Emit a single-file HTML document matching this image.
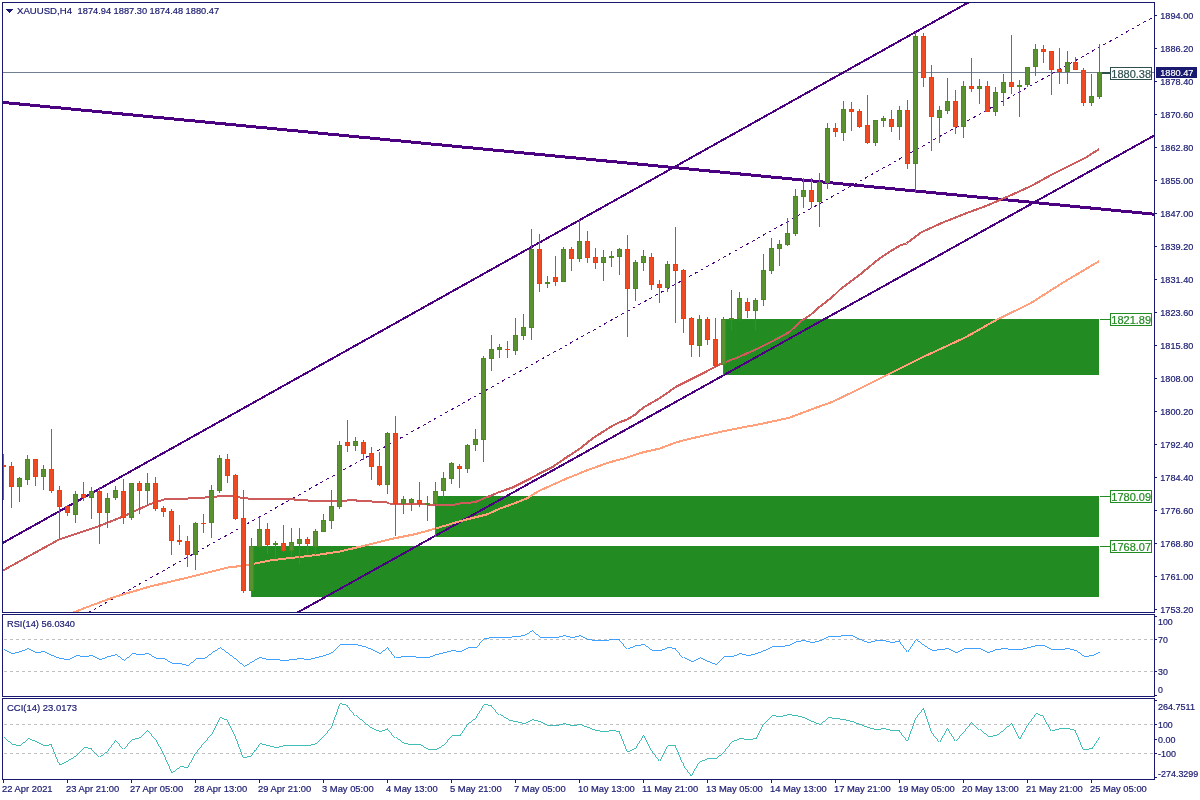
<!DOCTYPE html>
<html><head><meta charset="utf-8"><title>XAUUSD H4</title>
<style>html,body{margin:0;padding:0;background:#fff}svg{display:block}</style></head>
<body>
<svg width="1200" height="800" viewBox="0 0 1200 800" font-family="'Liberation Sans', Arial, sans-serif">
<rect width="1200" height="800" fill="#fff"/>
<g shape-rendering="crispEdges">
<defs><clipPath id="cm"><rect x="3" y="3" width="1151" height="609"/></clipPath></defs>
<g clip-path="url(#cm)">
<rect x="251" y="546" width="848" height="51" fill="#228B22"/>
<rect x="435" y="496" width="664" height="41" fill="#228B22"/>
<rect x="723" y="319" width="376" height="56" fill="#228B22"/>
<rect x="3" y="72" width="1151" height="1" fill="#708090"/>
<line x1="0.00" y1="102.11" x2="1156.00" y2="214.36" stroke="#4B0082" stroke-width="3" />
<line x1="0.00" y1="544.48" x2="980.00" y2="-4.03" stroke="#4B0082" stroke-width="2" />
<line x1="290.00" y1="616.68" x2="1156.00" y2="134.49" stroke="#4B0082" stroke-width="2" />
<line x1="88.00" y1="612.84" x2="1156.00" y2="15.51" stroke="#4B0082" stroke-width="1" stroke-dasharray="3 3.5"/>
<polyline fill="none" stroke="#FFA07A" stroke-width="2" stroke-linejoin="round" points="72.0,613.0 90.0,606.0 115.0,596.8 150.0,586.5 188.0,577.5 228.0,567.5 240.0,566.1 255.0,563.5 270.0,560.5 290.0,558.0 300.0,557.0 315.0,555.2 340.0,551.5 365.0,545.5 390.0,539.2 415.0,534.2 433.3,529.2 446.7,525.2 460.0,521.2 473.3,517.8 486.7,514.5 500.0,508.5 513.3,503.8 526.7,498.5 533.3,494.3 540.0,490.5 553.3,484.5 566.7,478.5 580.0,473.2 587.5,470.0 610.0,462.2 626.7,457.7 643.3,452.2 660.0,448.5 676.7,442.2 693.3,438.0 710.0,434.2 726.7,430.5 743.3,427.2 760.0,424.2 770.8,421.8 789.3,417.8 811.0,409.5 832.5,401.8 863.3,387.0 888.0,374.6 925.0,356.1 965.0,337.6 996.0,320.1 1029.8,303.7 1063.8,282.1 1099.0,261.2"/>
<polyline fill="none" stroke="#CD5C5C" stroke-width="2" stroke-linejoin="round" points="3.0,570.5 59.0,539.5 99.0,526.1 123.0,516.5 147.0,505.5 150.0,504.2 165.0,499.2 188.0,498.5 205.0,497.5 230.0,495.5 240.0,497.5 252.0,499.0 290.0,499.2 300.0,499.9 315.0,501.1 346.0,501.1 349.0,499.6 355.0,499.6 357.0,500.8 371.0,500.8 373.0,502.4 387.0,502.4 389.0,503.5 420.0,504.0 436.0,505.0 450.7,505.5 460.0,503.5 474.7,502.2 486.7,497.2 500.0,491.8 513.3,487.2 526.7,480.5 540.0,473.2 553.3,466.5 566.7,457.2 580.0,448.5 593.3,438.0 610.0,427.2 618.3,422.7 626.7,419.7 635.0,414.7 643.3,407.5 660.0,398.0 676.7,386.3 693.3,378.0 706.7,371.3 720.0,364.2 740.0,356.5 760.0,347.5 773.8,340.5 789.3,332.1 800.0,322.0 811.0,314.5 820.0,306.5 832.5,296.9 840.0,289.5 860.0,274.5 878.8,259.0 890.0,251.5 900.0,245.5 906.5,243.5 921.7,232.1 943.3,222.3 965.0,213.7 986.7,205.7 1008.3,196.3 1030.0,186.6 1051.7,174.7 1073.3,163.8 1086.3,157.3 1099.0,149.1"/>
<rect x="3" y="454" width="1" height="46" fill="#EE3D0E"/>
<rect x="1" y="465" width="5" height="2" fill="#EE3D0E"/>
<rect x="11" y="462" width="1" height="46" fill="#EE3D0E"/>
<rect x="9" y="466" width="5" height="21" fill="#EE3D0E"/>
<rect x="10" y="467" width="3" height="19" fill="#EE4B25"/>
<rect x="19" y="477" width="1" height="25" fill="#4C8A1F"/>
<rect x="17" y="478" width="5" height="9" fill="#4C8A1F"/>
<rect x="18" y="479" width="3" height="7" fill="#5B9231"/>
<rect x="27" y="455" width="1" height="30" fill="#4C8A1F"/>
<rect x="25" y="459" width="5" height="21" fill="#4C8A1F"/>
<rect x="26" y="460" width="3" height="19" fill="#5B9231"/>
<rect x="35" y="459" width="1" height="27" fill="#EE3D0E"/>
<rect x="33" y="459" width="5" height="18" fill="#EE3D0E"/>
<rect x="34" y="460" width="3" height="16" fill="#EE4B25"/>
<rect x="43" y="465" width="1" height="25" fill="#4C8A1F"/>
<rect x="41" y="469" width="5" height="8" fill="#4C8A1F"/>
<rect x="42" y="470" width="3" height="6" fill="#5B9231"/>
<rect x="51" y="429" width="1" height="64" fill="#EE3D0E"/>
<rect x="49" y="469" width="5" height="22" fill="#EE3D0E"/>
<rect x="50" y="470" width="3" height="20" fill="#EE4B25"/>
<rect x="59" y="486" width="1" height="53" fill="#EE3D0E"/>
<rect x="57" y="490" width="5" height="17" fill="#EE3D0E"/>
<rect x="58" y="491" width="3" height="15" fill="#EE4B25"/>
<rect x="67" y="505" width="1" height="11" fill="#EE3D0E"/>
<rect x="65" y="506" width="5" height="7" fill="#EE3D0E"/>
<rect x="66" y="507" width="3" height="5" fill="#EE4B25"/>
<rect x="75" y="491" width="1" height="32" fill="#4C8A1F"/>
<rect x="73" y="494" width="5" height="21" fill="#4C8A1F"/>
<rect x="74" y="495" width="3" height="19" fill="#5B9231"/>
<rect x="83" y="482" width="1" height="19" fill="#EE3D0E"/>
<rect x="81" y="494" width="5" height="4" fill="#EE3D0E"/>
<rect x="82" y="495" width="3" height="2" fill="#EE4B25"/>
<rect x="91" y="487" width="1" height="32" fill="#4C8A1F"/>
<rect x="89" y="491" width="5" height="7" fill="#4C8A1F"/>
<rect x="90" y="492" width="3" height="5" fill="#5B9231"/>
<rect x="99" y="487" width="1" height="57" fill="#EE3D0E"/>
<rect x="97" y="491" width="5" height="22" fill="#EE3D0E"/>
<rect x="98" y="492" width="3" height="20" fill="#EE4B25"/>
<rect x="107" y="493" width="1" height="35" fill="#4C8A1F"/>
<rect x="105" y="498" width="5" height="15" fill="#4C8A1F"/>
<rect x="106" y="499" width="3" height="13" fill="#5B9231"/>
<rect x="115" y="486" width="1" height="14" fill="#4C8A1F"/>
<rect x="113" y="490" width="5" height="8" fill="#4C8A1F"/>
<rect x="114" y="491" width="3" height="6" fill="#5B9231"/>
<rect x="123" y="479" width="1" height="45" fill="#EE3D0E"/>
<rect x="121" y="491" width="5" height="27" fill="#EE3D0E"/>
<rect x="122" y="492" width="3" height="25" fill="#EE4B25"/>
<rect x="131" y="483" width="1" height="37" fill="#4C8A1F"/>
<rect x="129" y="483" width="5" height="35" fill="#4C8A1F"/>
<rect x="130" y="484" width="3" height="33" fill="#5B9231"/>
<rect x="139" y="481" width="1" height="33" fill="#EE3D0E"/>
<rect x="137" y="483" width="5" height="8" fill="#EE3D0E"/>
<rect x="138" y="484" width="3" height="6" fill="#EE4B25"/>
<rect x="147" y="473" width="1" height="33" fill="#4C8A1F"/>
<rect x="145" y="483" width="5" height="8" fill="#4C8A1F"/>
<rect x="146" y="484" width="3" height="6" fill="#5B9231"/>
<rect x="155" y="477" width="1" height="34" fill="#EE3D0E"/>
<rect x="153" y="483" width="5" height="26" fill="#EE3D0E"/>
<rect x="154" y="484" width="3" height="24" fill="#EE4B25"/>
<rect x="163" y="506" width="1" height="11" fill="#EE3D0E"/>
<rect x="161" y="508" width="5" height="4" fill="#EE3D0E"/>
<rect x="162" y="509" width="3" height="2" fill="#EE4B25"/>
<rect x="171" y="509" width="1" height="46" fill="#EE3D0E"/>
<rect x="169" y="511" width="5" height="30" fill="#EE3D0E"/>
<rect x="170" y="512" width="3" height="28" fill="#EE4B25"/>
<rect x="179" y="525" width="1" height="20" fill="#EE3D0E"/>
<rect x="177" y="540" width="5" height="2" fill="#EE3D0E"/>
<rect x="187" y="536" width="1" height="31" fill="#EE3D0E"/>
<rect x="185" y="541" width="5" height="14" fill="#EE3D0E"/>
<rect x="186" y="542" width="3" height="12" fill="#EE4B25"/>
<rect x="195" y="522" width="1" height="48" fill="#4C8A1F"/>
<rect x="193" y="523" width="5" height="32" fill="#4C8A1F"/>
<rect x="194" y="524" width="3" height="30" fill="#5B9231"/>
<rect x="203" y="514" width="1" height="19" fill="#EE3D0E"/>
<rect x="201" y="523" width="5" height="1" fill="#EE3D0E"/>
<rect x="211" y="485" width="1" height="53" fill="#4C8A1F"/>
<rect x="209" y="490" width="5" height="33" fill="#4C8A1F"/>
<rect x="210" y="491" width="3" height="31" fill="#5B9231"/>
<rect x="219" y="455" width="1" height="38" fill="#4C8A1F"/>
<rect x="217" y="458" width="5" height="33" fill="#4C8A1F"/>
<rect x="218" y="459" width="3" height="31" fill="#5B9231"/>
<rect x="227" y="454" width="1" height="29" fill="#EE3D0E"/>
<rect x="225" y="459" width="5" height="17" fill="#EE3D0E"/>
<rect x="226" y="460" width="3" height="15" fill="#EE4B25"/>
<rect x="235" y="474" width="1" height="46" fill="#EE3D0E"/>
<rect x="233" y="475" width="5" height="44" fill="#EE3D0E"/>
<rect x="234" y="476" width="3" height="42" fill="#EE4B25"/>
<rect x="243" y="490" width="1" height="103" fill="#EE3D0E"/>
<rect x="241" y="518" width="5" height="73" fill="#EE3D0E"/>
<rect x="242" y="519" width="3" height="71" fill="#EE4B25"/>
<rect x="251" y="538" width="1" height="59" fill="#4C8A1F"/>
<rect x="249" y="546" width="5" height="45" fill="#4C8A1F"/>
<rect x="250" y="547" width="3" height="43" fill="#5B9231"/>
<rect x="259" y="517" width="1" height="31" fill="#4C8A1F"/>
<rect x="257" y="529" width="5" height="18" fill="#4C8A1F"/>
<rect x="258" y="530" width="3" height="16" fill="#5B9231"/>
<rect x="267" y="523" width="1" height="31" fill="#EE3D0E"/>
<rect x="265" y="529" width="5" height="16" fill="#EE3D0E"/>
<rect x="266" y="530" width="3" height="14" fill="#EE4B25"/>
<rect x="275" y="541" width="1" height="18" fill="#4C8A1F"/>
<rect x="273" y="543" width="5" height="2" fill="#4C8A1F"/>
<rect x="283" y="525" width="1" height="27" fill="#EE3D0E"/>
<rect x="281" y="543" width="5" height="8" fill="#EE3D0E"/>
<rect x="282" y="544" width="3" height="6" fill="#EE4B25"/>
<rect x="291" y="528" width="1" height="29" fill="#4C8A1F"/>
<rect x="289" y="542" width="5" height="9" fill="#4C8A1F"/>
<rect x="290" y="543" width="3" height="7" fill="#5B9231"/>
<rect x="299" y="528" width="1" height="36" fill="#4C8A1F"/>
<rect x="297" y="539" width="5" height="5" fill="#4C8A1F"/>
<rect x="298" y="540" width="3" height="3" fill="#5B9231"/>
<rect x="307" y="537" width="1" height="17" fill="#EE3D0E"/>
<rect x="305" y="539" width="5" height="5" fill="#EE3D0E"/>
<rect x="306" y="540" width="3" height="3" fill="#EE4B25"/>
<rect x="315" y="529" width="1" height="26" fill="#4C8A1F"/>
<rect x="313" y="531" width="5" height="16" fill="#4C8A1F"/>
<rect x="314" y="532" width="3" height="14" fill="#5B9231"/>
<rect x="323" y="514" width="1" height="18" fill="#4C8A1F"/>
<rect x="321" y="520" width="5" height="12" fill="#4C8A1F"/>
<rect x="322" y="521" width="3" height="10" fill="#5B9231"/>
<rect x="331" y="490" width="1" height="39" fill="#4C8A1F"/>
<rect x="329" y="506" width="5" height="15" fill="#4C8A1F"/>
<rect x="330" y="507" width="3" height="13" fill="#5B9231"/>
<rect x="339" y="441" width="1" height="68" fill="#4C8A1F"/>
<rect x="337" y="445" width="5" height="62" fill="#4C8A1F"/>
<rect x="338" y="446" width="3" height="60" fill="#5B9231"/>
<rect x="347" y="420" width="1" height="32" fill="#EE3D0E"/>
<rect x="345" y="442" width="5" height="4" fill="#EE3D0E"/>
<rect x="346" y="443" width="3" height="2" fill="#EE4B25"/>
<rect x="355" y="437" width="1" height="14" fill="#4C8A1F"/>
<rect x="353" y="441" width="5" height="5" fill="#4C8A1F"/>
<rect x="354" y="442" width="3" height="3" fill="#5B9231"/>
<rect x="363" y="440" width="1" height="20" fill="#EE3D0E"/>
<rect x="361" y="442" width="5" height="12" fill="#EE3D0E"/>
<rect x="362" y="443" width="3" height="10" fill="#EE4B25"/>
<rect x="371" y="447" width="1" height="33" fill="#EE3D0E"/>
<rect x="369" y="453" width="5" height="14" fill="#EE3D0E"/>
<rect x="370" y="454" width="3" height="12" fill="#EE4B25"/>
<rect x="379" y="452" width="1" height="34" fill="#EE3D0E"/>
<rect x="377" y="466" width="5" height="19" fill="#EE3D0E"/>
<rect x="378" y="467" width="3" height="17" fill="#EE4B25"/>
<rect x="387" y="432" width="1" height="62" fill="#4C8A1F"/>
<rect x="385" y="433" width="5" height="52" fill="#4C8A1F"/>
<rect x="386" y="434" width="3" height="50" fill="#5B9231"/>
<rect x="395" y="416" width="1" height="120" fill="#EE3D0E"/>
<rect x="393" y="433" width="5" height="71" fill="#EE3D0E"/>
<rect x="394" y="434" width="3" height="69" fill="#EE4B25"/>
<rect x="403" y="496" width="1" height="18" fill="#4C8A1F"/>
<rect x="401" y="499" width="5" height="5" fill="#4C8A1F"/>
<rect x="402" y="500" width="3" height="3" fill="#5B9231"/>
<rect x="411" y="498" width="1" height="13" fill="#4C8A1F"/>
<rect x="409" y="499" width="5" height="4" fill="#4C8A1F"/>
<rect x="410" y="500" width="3" height="2" fill="#5B9231"/>
<rect x="419" y="482" width="1" height="25" fill="#EE3D0E"/>
<rect x="417" y="500" width="5" height="4" fill="#EE3D0E"/>
<rect x="418" y="501" width="3" height="2" fill="#EE4B25"/>
<rect x="427" y="496" width="1" height="25" fill="#4C8A1F"/>
<rect x="425" y="503" width="5" height="2" fill="#4C8A1F"/>
<rect x="435" y="482" width="1" height="55" fill="#4C8A1F"/>
<rect x="433" y="491" width="5" height="13" fill="#4C8A1F"/>
<rect x="434" y="492" width="3" height="11" fill="#5B9231"/>
<rect x="443" y="472" width="1" height="28" fill="#4C8A1F"/>
<rect x="441" y="478" width="5" height="13" fill="#4C8A1F"/>
<rect x="442" y="479" width="3" height="11" fill="#5B9231"/>
<rect x="451" y="462" width="1" height="22" fill="#4C8A1F"/>
<rect x="449" y="463" width="5" height="16" fill="#4C8A1F"/>
<rect x="450" y="464" width="3" height="14" fill="#5B9231"/>
<rect x="459" y="464" width="1" height="24" fill="#EE3D0E"/>
<rect x="457" y="466" width="5" height="3" fill="#EE3D0E"/>
<rect x="458" y="467" width="3" height="1" fill="#EE4B25"/>
<rect x="467" y="444" width="1" height="29" fill="#4C8A1F"/>
<rect x="465" y="445" width="5" height="24" fill="#4C8A1F"/>
<rect x="466" y="446" width="3" height="22" fill="#5B9231"/>
<rect x="475" y="429" width="1" height="22" fill="#4C8A1F"/>
<rect x="473" y="439" width="5" height="6" fill="#4C8A1F"/>
<rect x="474" y="440" width="3" height="4" fill="#5B9231"/>
<rect x="483" y="356" width="1" height="106" fill="#4C8A1F"/>
<rect x="481" y="358" width="5" height="82" fill="#4C8A1F"/>
<rect x="482" y="359" width="3" height="80" fill="#5B9231"/>
<rect x="491" y="335" width="1" height="36" fill="#4C8A1F"/>
<rect x="489" y="349" width="5" height="10" fill="#4C8A1F"/>
<rect x="490" y="350" width="3" height="8" fill="#5B9231"/>
<rect x="499" y="344" width="1" height="14" fill="#4C8A1F"/>
<rect x="497" y="347" width="5" height="3" fill="#4C8A1F"/>
<rect x="498" y="348" width="3" height="1" fill="#5B9231"/>
<rect x="507" y="341" width="1" height="17" fill="#EE3D0E"/>
<rect x="505" y="349" width="5" height="1" fill="#EE3D0E"/>
<rect x="515" y="318" width="1" height="37" fill="#4C8A1F"/>
<rect x="513" y="335" width="5" height="16" fill="#4C8A1F"/>
<rect x="514" y="336" width="3" height="14" fill="#5B9231"/>
<rect x="523" y="314" width="1" height="26" fill="#4C8A1F"/>
<rect x="521" y="327" width="5" height="9" fill="#4C8A1F"/>
<rect x="522" y="328" width="3" height="7" fill="#5B9231"/>
<rect x="531" y="229" width="1" height="111" fill="#4C8A1F"/>
<rect x="529" y="249" width="5" height="79" fill="#4C8A1F"/>
<rect x="530" y="250" width="3" height="77" fill="#5B9231"/>
<rect x="539" y="234" width="1" height="58" fill="#EE3D0E"/>
<rect x="537" y="249" width="5" height="35" fill="#EE3D0E"/>
<rect x="538" y="250" width="3" height="33" fill="#EE4B25"/>
<rect x="547" y="276" width="1" height="12" fill="#4C8A1F"/>
<rect x="545" y="282" width="5" height="2" fill="#4C8A1F"/>
<rect x="555" y="256" width="1" height="30" fill="#EE3D0E"/>
<rect x="553" y="277" width="5" height="5" fill="#EE3D0E"/>
<rect x="554" y="278" width="3" height="3" fill="#EE4B25"/>
<rect x="563" y="247" width="1" height="35" fill="#4C8A1F"/>
<rect x="561" y="249" width="5" height="33" fill="#4C8A1F"/>
<rect x="562" y="250" width="3" height="31" fill="#5B9231"/>
<rect x="571" y="247" width="1" height="24" fill="#EE3D0E"/>
<rect x="569" y="249" width="5" height="10" fill="#EE3D0E"/>
<rect x="570" y="250" width="3" height="8" fill="#EE4B25"/>
<rect x="579" y="220" width="1" height="42" fill="#4C8A1F"/>
<rect x="577" y="241" width="5" height="18" fill="#4C8A1F"/>
<rect x="578" y="242" width="3" height="16" fill="#5B9231"/>
<rect x="587" y="231" width="1" height="32" fill="#EE3D0E"/>
<rect x="585" y="241" width="5" height="17" fill="#EE3D0E"/>
<rect x="586" y="242" width="3" height="15" fill="#EE4B25"/>
<rect x="595" y="248" width="1" height="21" fill="#EE3D0E"/>
<rect x="593" y="257" width="5" height="6" fill="#EE3D0E"/>
<rect x="594" y="258" width="3" height="4" fill="#EE4B25"/>
<rect x="603" y="250" width="1" height="31" fill="#4C8A1F"/>
<rect x="601" y="257" width="5" height="6" fill="#4C8A1F"/>
<rect x="602" y="258" width="3" height="4" fill="#5B9231"/>
<rect x="611" y="251" width="1" height="16" fill="#4C8A1F"/>
<rect x="609" y="256" width="5" height="2" fill="#4C8A1F"/>
<rect x="619" y="248" width="1" height="27" fill="#4C8A1F"/>
<rect x="617" y="249" width="5" height="8" fill="#4C8A1F"/>
<rect x="618" y="250" width="3" height="6" fill="#5B9231"/>
<rect x="627" y="235" width="1" height="102" fill="#EE3D0E"/>
<rect x="625" y="249" width="5" height="40" fill="#EE3D0E"/>
<rect x="626" y="250" width="3" height="38" fill="#EE4B25"/>
<rect x="635" y="260" width="1" height="41" fill="#4C8A1F"/>
<rect x="633" y="262" width="5" height="27" fill="#4C8A1F"/>
<rect x="634" y="263" width="3" height="25" fill="#5B9231"/>
<rect x="643" y="250" width="1" height="21" fill="#4C8A1F"/>
<rect x="641" y="256" width="5" height="7" fill="#4C8A1F"/>
<rect x="642" y="257" width="3" height="5" fill="#5B9231"/>
<rect x="651" y="253" width="1" height="37" fill="#EE3D0E"/>
<rect x="649" y="257" width="5" height="28" fill="#EE3D0E"/>
<rect x="650" y="258" width="3" height="26" fill="#EE4B25"/>
<rect x="659" y="280" width="1" height="23" fill="#EE3D0E"/>
<rect x="657" y="284" width="5" height="4" fill="#EE3D0E"/>
<rect x="658" y="285" width="3" height="2" fill="#EE4B25"/>
<rect x="667" y="261" width="1" height="31" fill="#4C8A1F"/>
<rect x="665" y="264" width="5" height="24" fill="#4C8A1F"/>
<rect x="666" y="265" width="3" height="22" fill="#5B9231"/>
<rect x="675" y="227" width="1" height="96" fill="#EE3D0E"/>
<rect x="673" y="264" width="5" height="7" fill="#EE3D0E"/>
<rect x="674" y="265" width="3" height="5" fill="#EE4B25"/>
<rect x="683" y="269" width="1" height="64" fill="#EE3D0E"/>
<rect x="681" y="270" width="5" height="49" fill="#EE3D0E"/>
<rect x="682" y="271" width="3" height="47" fill="#EE4B25"/>
<rect x="691" y="317" width="1" height="40" fill="#EE3D0E"/>
<rect x="689" y="318" width="5" height="27" fill="#EE3D0E"/>
<rect x="690" y="319" width="3" height="25" fill="#EE4B25"/>
<rect x="699" y="315" width="1" height="42" fill="#4C8A1F"/>
<rect x="697" y="319" width="5" height="27" fill="#4C8A1F"/>
<rect x="698" y="320" width="3" height="25" fill="#5B9231"/>
<rect x="707" y="317" width="1" height="28" fill="#EE3D0E"/>
<rect x="705" y="319" width="5" height="21" fill="#EE3D0E"/>
<rect x="706" y="320" width="3" height="19" fill="#EE4B25"/>
<rect x="715" y="318" width="1" height="49" fill="#EE3D0E"/>
<rect x="713" y="339" width="5" height="27" fill="#EE3D0E"/>
<rect x="714" y="340" width="3" height="25" fill="#EE4B25"/>
<rect x="723" y="317" width="1" height="58" fill="#4C8A1F"/>
<rect x="721" y="319" width="5" height="46" fill="#4C8A1F"/>
<rect x="722" y="320" width="3" height="44" fill="#5B9231"/>
<rect x="731" y="290" width="1" height="40" fill="#4C8A1F"/>
<rect x="729" y="318" width="5" height="2" fill="#4C8A1F"/>
<rect x="739" y="292" width="1" height="29" fill="#4C8A1F"/>
<rect x="737" y="298" width="5" height="21" fill="#4C8A1F"/>
<rect x="738" y="299" width="3" height="19" fill="#5B9231"/>
<rect x="747" y="298" width="1" height="20" fill="#EE3D0E"/>
<rect x="745" y="302" width="5" height="9" fill="#EE3D0E"/>
<rect x="746" y="303" width="3" height="7" fill="#EE4B25"/>
<rect x="755" y="298" width="1" height="32" fill="#4C8A1F"/>
<rect x="753" y="300" width="5" height="11" fill="#4C8A1F"/>
<rect x="754" y="301" width="3" height="9" fill="#5B9231"/>
<rect x="763" y="254" width="1" height="52" fill="#4C8A1F"/>
<rect x="761" y="270" width="5" height="30" fill="#4C8A1F"/>
<rect x="762" y="271" width="3" height="28" fill="#5B9231"/>
<rect x="771" y="238" width="1" height="36" fill="#4C8A1F"/>
<rect x="769" y="248" width="5" height="23" fill="#4C8A1F"/>
<rect x="770" y="249" width="3" height="21" fill="#5B9231"/>
<rect x="779" y="240" width="1" height="26" fill="#4C8A1F"/>
<rect x="777" y="244" width="5" height="5" fill="#4C8A1F"/>
<rect x="778" y="245" width="3" height="3" fill="#5B9231"/>
<rect x="787" y="218" width="1" height="28" fill="#4C8A1F"/>
<rect x="785" y="233" width="5" height="12" fill="#4C8A1F"/>
<rect x="786" y="234" width="3" height="10" fill="#5B9231"/>
<rect x="795" y="189" width="1" height="47" fill="#4C8A1F"/>
<rect x="793" y="196" width="5" height="38" fill="#4C8A1F"/>
<rect x="794" y="197" width="3" height="36" fill="#5B9231"/>
<rect x="803" y="178" width="1" height="30" fill="#4C8A1F"/>
<rect x="801" y="190" width="5" height="7" fill="#4C8A1F"/>
<rect x="802" y="191" width="3" height="5" fill="#5B9231"/>
<rect x="811" y="178" width="1" height="30" fill="#EE3D0E"/>
<rect x="809" y="190" width="5" height="12" fill="#EE3D0E"/>
<rect x="810" y="191" width="3" height="10" fill="#EE4B25"/>
<rect x="819" y="173" width="1" height="54" fill="#4C8A1F"/>
<rect x="817" y="182" width="5" height="20" fill="#4C8A1F"/>
<rect x="818" y="183" width="3" height="18" fill="#5B9231"/>
<rect x="827" y="123" width="1" height="66" fill="#4C8A1F"/>
<rect x="825" y="128" width="5" height="55" fill="#4C8A1F"/>
<rect x="826" y="129" width="3" height="53" fill="#5B9231"/>
<rect x="835" y="123" width="1" height="14" fill="#EE3D0E"/>
<rect x="833" y="128" width="5" height="4" fill="#EE3D0E"/>
<rect x="834" y="129" width="3" height="2" fill="#EE4B25"/>
<rect x="843" y="101" width="1" height="40" fill="#4C8A1F"/>
<rect x="841" y="109" width="5" height="24" fill="#4C8A1F"/>
<rect x="842" y="110" width="3" height="22" fill="#5B9231"/>
<rect x="851" y="102" width="1" height="29" fill="#EE3D0E"/>
<rect x="849" y="109" width="5" height="3" fill="#EE3D0E"/>
<rect x="850" y="110" width="3" height="1" fill="#EE4B25"/>
<rect x="859" y="109" width="1" height="19" fill="#EE3D0E"/>
<rect x="857" y="111" width="5" height="16" fill="#EE3D0E"/>
<rect x="858" y="112" width="3" height="14" fill="#EE4B25"/>
<rect x="867" y="95" width="1" height="49" fill="#EE3D0E"/>
<rect x="865" y="125" width="5" height="18" fill="#EE3D0E"/>
<rect x="866" y="126" width="3" height="16" fill="#EE4B25"/>
<rect x="875" y="120" width="1" height="26" fill="#4C8A1F"/>
<rect x="873" y="120" width="5" height="23" fill="#4C8A1F"/>
<rect x="874" y="121" width="3" height="21" fill="#5B9231"/>
<rect x="883" y="116" width="1" height="11" fill="#4C8A1F"/>
<rect x="881" y="118" width="5" height="3" fill="#4C8A1F"/>
<rect x="882" y="119" width="3" height="1" fill="#5B9231"/>
<rect x="891" y="110" width="1" height="22" fill="#EE3D0E"/>
<rect x="889" y="119" width="5" height="8" fill="#EE3D0E"/>
<rect x="890" y="120" width="3" height="6" fill="#EE4B25"/>
<rect x="899" y="106" width="1" height="34" fill="#4C8A1F"/>
<rect x="897" y="110" width="5" height="17" fill="#4C8A1F"/>
<rect x="898" y="111" width="3" height="15" fill="#5B9231"/>
<rect x="907" y="100" width="1" height="69" fill="#EE3D0E"/>
<rect x="905" y="110" width="5" height="54" fill="#EE3D0E"/>
<rect x="906" y="111" width="3" height="52" fill="#EE4B25"/>
<rect x="915" y="32" width="1" height="161" fill="#4C8A1F"/>
<rect x="913" y="36" width="5" height="128" fill="#4C8A1F"/>
<rect x="914" y="37" width="3" height="126" fill="#5B9231"/>
<rect x="923" y="33" width="1" height="54" fill="#EE3D0E"/>
<rect x="921" y="36" width="5" height="42" fill="#EE3D0E"/>
<rect x="922" y="37" width="3" height="40" fill="#EE4B25"/>
<rect x="931" y="65" width="1" height="86" fill="#EE3D0E"/>
<rect x="929" y="77" width="5" height="40" fill="#EE3D0E"/>
<rect x="930" y="78" width="3" height="38" fill="#EE4B25"/>
<rect x="939" y="106" width="1" height="37" fill="#4C8A1F"/>
<rect x="937" y="110" width="5" height="8" fill="#4C8A1F"/>
<rect x="938" y="111" width="3" height="6" fill="#5B9231"/>
<rect x="947" y="78" width="1" height="36" fill="#4C8A1F"/>
<rect x="945" y="101" width="5" height="10" fill="#4C8A1F"/>
<rect x="946" y="102" width="3" height="8" fill="#5B9231"/>
<rect x="955" y="90" width="1" height="44" fill="#EE3D0E"/>
<rect x="953" y="101" width="5" height="26" fill="#EE3D0E"/>
<rect x="954" y="102" width="3" height="24" fill="#EE4B25"/>
<rect x="963" y="81" width="1" height="57" fill="#4C8A1F"/>
<rect x="961" y="86" width="5" height="41" fill="#4C8A1F"/>
<rect x="962" y="87" width="3" height="39" fill="#5B9231"/>
<rect x="971" y="58" width="1" height="34" fill="#EE3D0E"/>
<rect x="969" y="86" width="5" height="3" fill="#EE3D0E"/>
<rect x="970" y="87" width="3" height="1" fill="#EE4B25"/>
<rect x="979" y="79" width="1" height="25" fill="#4C8A1F"/>
<rect x="977" y="86" width="5" height="3" fill="#4C8A1F"/>
<rect x="978" y="87" width="3" height="1" fill="#5B9231"/>
<rect x="987" y="81" width="1" height="31" fill="#EE3D0E"/>
<rect x="985" y="86" width="5" height="26" fill="#EE3D0E"/>
<rect x="986" y="87" width="3" height="24" fill="#EE4B25"/>
<rect x="995" y="87" width="1" height="29" fill="#4C8A1F"/>
<rect x="993" y="92" width="5" height="20" fill="#4C8A1F"/>
<rect x="994" y="93" width="3" height="18" fill="#5B9231"/>
<rect x="1003" y="74" width="1" height="32" fill="#4C8A1F"/>
<rect x="1001" y="82" width="5" height="11" fill="#4C8A1F"/>
<rect x="1002" y="83" width="3" height="9" fill="#5B9231"/>
<rect x="1011" y="35" width="1" height="59" fill="#EE3D0E"/>
<rect x="1009" y="82" width="5" height="5" fill="#EE3D0E"/>
<rect x="1010" y="83" width="3" height="3" fill="#EE4B25"/>
<rect x="1019" y="80" width="1" height="37" fill="#4C8A1F"/>
<rect x="1017" y="85" width="5" height="2" fill="#4C8A1F"/>
<rect x="1027" y="67" width="1" height="20" fill="#4C8A1F"/>
<rect x="1025" y="67" width="5" height="18" fill="#4C8A1F"/>
<rect x="1026" y="68" width="3" height="16" fill="#5B9231"/>
<rect x="1035" y="44" width="1" height="32" fill="#4C8A1F"/>
<rect x="1033" y="49" width="5" height="18" fill="#4C8A1F"/>
<rect x="1034" y="50" width="3" height="16" fill="#5B9231"/>
<rect x="1043" y="45" width="1" height="18" fill="#EE3D0E"/>
<rect x="1041" y="49" width="5" height="3" fill="#EE3D0E"/>
<rect x="1042" y="50" width="3" height="1" fill="#EE4B25"/>
<rect x="1051" y="51" width="1" height="44" fill="#EE3D0E"/>
<rect x="1049" y="51" width="5" height="19" fill="#EE3D0E"/>
<rect x="1050" y="52" width="3" height="17" fill="#EE4B25"/>
<rect x="1059" y="48" width="1" height="36" fill="#EE3D0E"/>
<rect x="1057" y="69" width="5" height="3" fill="#EE3D0E"/>
<rect x="1058" y="70" width="3" height="1" fill="#EE4B25"/>
<rect x="1067" y="51" width="1" height="33" fill="#4C8A1F"/>
<rect x="1065" y="62" width="5" height="10" fill="#4C8A1F"/>
<rect x="1066" y="63" width="3" height="8" fill="#5B9231"/>
<rect x="1075" y="57" width="1" height="13" fill="#EE3D0E"/>
<rect x="1073" y="62" width="5" height="8" fill="#EE3D0E"/>
<rect x="1074" y="63" width="3" height="6" fill="#EE4B25"/>
<rect x="1083" y="68" width="1" height="38" fill="#EE3D0E"/>
<rect x="1081" y="70" width="5" height="33" fill="#EE3D0E"/>
<rect x="1082" y="71" width="3" height="31" fill="#EE4B25"/>
<rect x="1091" y="74" width="1" height="32" fill="#4C8A1F"/>
<rect x="1089" y="96" width="5" height="7" fill="#4C8A1F"/>
<rect x="1090" y="97" width="3" height="5" fill="#5B9231"/>
<rect x="1099" y="44" width="1" height="55" fill="#4C8A1F"/>
<rect x="1097" y="72" width="5" height="25" fill="#4C8A1F"/>
<rect x="1098" y="73" width="3" height="23" fill="#5B9231"/>
</g>
<rect x="1102" y="72" width="8" height="2" fill="#2F4F4F"/>
<rect x="1110.5" y="67.5" width="41" height="12" fill="#fff" stroke="#2F4F4F" stroke-width="1"/>
<rect x="1100" y="319" width="10" height="1" fill="#228B22"/>
<rect x="1110.5" y="313.5" width="41" height="12" fill="#fff" stroke="#228B22" stroke-width="1"/>
<rect x="1100" y="496" width="10" height="1" fill="#228B22"/>
<rect x="1110.5" y="490.5" width="41" height="12" fill="#fff" stroke="#228B22" stroke-width="1"/>
<rect x="1100" y="546" width="10" height="1" fill="#228B22"/>
<rect x="1110.5" y="540.5" width="41" height="12" fill="#fff" stroke="#228B22" stroke-width="1"/>
<rect x="2" y="2" width="1153" height="1" fill="#191970"/>
<rect x="2" y="612" width="1153" height="1" fill="#191970"/>
<rect x="2" y="2" width="1" height="611" fill="#191970"/>
<rect x="1154" y="2" width="1" height="611" fill="#191970"/>
<rect x="2" y="614" width="1153" height="1" fill="#191970"/>
<rect x="2" y="696" width="1153" height="1" fill="#191970"/>
<rect x="2" y="614" width="1" height="83" fill="#191970"/>
<rect x="1154" y="614" width="1" height="83" fill="#191970"/>
<rect x="2" y="698" width="1153" height="1" fill="#191970"/>
<rect x="2" y="779" width="1153" height="1" fill="#191970"/>
<rect x="2" y="698" width="1" height="82" fill="#191970"/>
<rect x="1154" y="698" width="1" height="82" fill="#191970"/>
<line x1="4" y1="639.5" x2="1154" y2="639.5" stroke="#C0C0C0" stroke-width="1" stroke-dasharray="3 3"/>
<line x1="4" y1="671.5" x2="1154" y2="671.5" stroke="#C0C0C0" stroke-width="1" stroke-dasharray="3 3"/>
<line x1="4" y1="724.5" x2="1154" y2="724.5" stroke="#C0C0C0" stroke-width="1" stroke-dasharray="3 3"/>
<line x1="4" y1="753.5" x2="1154" y2="753.5" stroke="#C0C0C0" stroke-width="1" stroke-dasharray="3 3"/>
<rect x="1155" y="15" width="2" height="1" fill="#191970"/>
<rect x="1155" y="48" width="2" height="1" fill="#191970"/>
<rect x="1155" y="81" width="2" height="1" fill="#191970"/>
<rect x="1155" y="114" width="2" height="1" fill="#191970"/>
<rect x="1155" y="147" width="2" height="1" fill="#191970"/>
<rect x="1155" y="180" width="2" height="1" fill="#191970"/>
<rect x="1155" y="213" width="2" height="1" fill="#191970"/>
<rect x="1155" y="246" width="2" height="1" fill="#191970"/>
<rect x="1155" y="279" width="2" height="1" fill="#191970"/>
<rect x="1155" y="312" width="2" height="1" fill="#191970"/>
<rect x="1155" y="345" width="2" height="1" fill="#191970"/>
<rect x="1155" y="378" width="2" height="1" fill="#191970"/>
<rect x="1155" y="411" width="2" height="1" fill="#191970"/>
<rect x="1155" y="444" width="2" height="1" fill="#191970"/>
<rect x="1155" y="477" width="2" height="1" fill="#191970"/>
<rect x="1155" y="510" width="2" height="1" fill="#191970"/>
<rect x="1155" y="543" width="2" height="1" fill="#191970"/>
<rect x="1155" y="576" width="2" height="1" fill="#191970"/>
<rect x="1155" y="609" width="2" height="1" fill="#191970"/>
<rect x="1155" y="616" width="2" height="1" fill="#191970"/>
<rect x="1155" y="639" width="2" height="1" fill="#191970"/>
<rect x="1155" y="671" width="2" height="1" fill="#191970"/>
<rect x="1155" y="695" width="2" height="1" fill="#191970"/>
<rect x="1155" y="700" width="2" height="1" fill="#191970"/>
<rect x="1155" y="724" width="2" height="1" fill="#191970"/>
<rect x="1155" y="739" width="2" height="1" fill="#191970"/>
<rect x="1155" y="753" width="2" height="1" fill="#191970"/>
<rect x="1155" y="777" width="2" height="1" fill="#191970"/>
<rect x="3" y="780" width="1" height="3" fill="#191970"/>
<rect x="67" y="780" width="1" height="3" fill="#191970"/>
<rect x="131" y="780" width="1" height="3" fill="#191970"/>
<rect x="195" y="780" width="1" height="3" fill="#191970"/>
<rect x="259" y="780" width="1" height="3" fill="#191970"/>
<rect x="323" y="780" width="1" height="3" fill="#191970"/>
<rect x="387" y="780" width="1" height="3" fill="#191970"/>
<rect x="451" y="780" width="1" height="3" fill="#191970"/>
<rect x="515" y="780" width="1" height="3" fill="#191970"/>
<rect x="579" y="780" width="1" height="3" fill="#191970"/>
<rect x="643" y="780" width="1" height="3" fill="#191970"/>
<rect x="707" y="780" width="1" height="3" fill="#191970"/>
<rect x="771" y="780" width="1" height="3" fill="#191970"/>
<rect x="835" y="780" width="1" height="3" fill="#191970"/>
<rect x="899" y="780" width="1" height="3" fill="#191970"/>
<rect x="963" y="780" width="1" height="3" fill="#191970"/>
<rect x="1027" y="780" width="1" height="3" fill="#191970"/>
<rect x="1091" y="780" width="1" height="3" fill="#191970"/>
<rect x="1156" y="67" width="41" height="11" fill="#191970"/>
<polygon points="6,9 13,9 9.5,13" fill="#191970"/>
</g>
<polyline fill="none" shape-rendering="crispEdges" stroke="#1E90FF" stroke-width="0.85" points="3.5,649.5 11.5,653.5 19.5,651.5 27.5,648.5 35.5,652.5 43.5,651.5 51.5,655.5 59.5,658.5 67.5,659.5 75.5,655.5 83.5,656.5 91.5,655.5 99.5,659.5 107.5,656.5 115.5,654.5 123.5,660.5 131.5,653.5 139.5,654.5 147.5,653.5 155.5,658.5 163.5,658.5 171.5,663.5 179.5,663.5 187.5,665.5 195.5,658.5 203.5,658.5 211.5,652.5 219.5,647.5 227.5,653.5 235.5,659.5 243.5,666.5 251.5,661.5 259.5,657.5 267.5,659.5 275.5,659.5 283.5,660.5 291.5,659.5 299.5,658.5 307.5,659.5 315.5,657.5 323.5,655.5 331.5,652.5 339.5,644.5 347.5,644.5 355.5,644.5 363.5,646.5 371.5,649.5 379.5,653.5 387.5,646.5 395.5,657.5 403.5,656.5 411.5,656.5 419.5,657.5 427.5,657.5 435.5,654.5 443.5,652.5 451.5,650.5 459.5,651.5 467.5,647.5 475.5,647.5 483.5,638.5 491.5,637.5 499.5,637.5 507.5,637.5 515.5,636.5 523.5,635.5 531.5,630.5 539.5,637.5 547.5,637.5 555.5,637.5 563.5,635.5 571.5,637.5 579.5,635.5 587.5,639.5 595.5,640.5 603.5,640.5 611.5,639.5 619.5,639.5 627.5,648.5 635.5,645.5 643.5,644.5 651.5,650.5 659.5,650.5 667.5,647.5 675.5,648.5 683.5,657.5 691.5,661.5 699.5,657.5 707.5,661.5 715.5,664.5 723.5,656.5 731.5,656.5 739.5,653.5 747.5,655.5 755.5,653.5 763.5,650.5 771.5,646.5 779.5,646.5 787.5,645.5 795.5,641.5 803.5,640.5 811.5,642.5 819.5,640.5 827.5,636.5 835.5,636.5 843.5,635.5 851.5,635.5 859.5,639.5 867.5,642.5 875.5,640.5 883.5,640.5 891.5,642.5 899.5,640.5 907.5,651.5 915.5,639.5 923.5,645.5 931.5,650.5 939.5,649.5 947.5,648.5 955.5,652.5 963.5,648.5 971.5,648.5 979.5,648.5 987.5,652.5 995.5,649.5 1003.5,648.5 1011.5,649.5 1019.5,649.5 1027.5,647.5 1035.5,645.5 1043.5,645.5 1051.5,649.5 1059.5,649.5 1067.5,648.5 1075.5,650.5 1083.5,656.5 1091.5,655.5 1099.5,651.5"/>
<polyline fill="none" shape-rendering="crispEdges" stroke="#20B2AA" stroke-width="0.85" points="3.5,737.5 11.5,744.5 19.5,745.5 27.5,738.5 35.5,741.5 43.5,745.5 51.5,744.5 59.5,764.5 67.5,760.5 75.5,755.5 83.5,747.5 91.5,748.5 99.5,756.5 107.5,750.5 115.5,739.5 123.5,748.5 131.5,739.5 139.5,737.5 147.5,729.5 155.5,738.5 163.5,752.5 171.5,772.5 179.5,766.5 187.5,767.5 195.5,752.5 203.5,742.5 211.5,733.5 219.5,717.5 227.5,720.5 235.5,736.5 243.5,757.5 251.5,755.5 259.5,743.5 267.5,745.5 275.5,747.5 283.5,745.5 291.5,745.5 299.5,745.5 307.5,745.5 315.5,743.5 323.5,735.5 331.5,726.5 339.5,703.5 347.5,705.5 355.5,715.5 363.5,722.5 371.5,728.5 379.5,731.5 387.5,728.5 395.5,737.5 403.5,743.5 411.5,744.5 419.5,744.5 427.5,749.5 435.5,749.5 443.5,744.5 451.5,735.5 459.5,735.5 467.5,723.5 475.5,717.5 483.5,704.5 491.5,705.5 499.5,714.5 507.5,719.5 515.5,721.5 523.5,723.5 531.5,719.5 539.5,721.5 547.5,725.5 555.5,725.5 563.5,723.5 571.5,725.5 579.5,724.5 587.5,727.5 595.5,730.5 603.5,731.5 611.5,730.5 619.5,731.5 627.5,751.5 635.5,747.5 643.5,734.5 651.5,749.5 659.5,760.5 667.5,745.5 675.5,745.5 683.5,764.5 691.5,775.5 699.5,761.5 707.5,758.5 715.5,758.5 723.5,751.5 731.5,741.5 739.5,738.5 747.5,739.5 755.5,738.5 763.5,723.5 771.5,715.5 779.5,716.5 787.5,714.5 795.5,715.5 803.5,717.5 811.5,721.5 819.5,724.5 827.5,717.5 835.5,718.5 843.5,719.5 851.5,721.5 859.5,724.5 867.5,727.5 875.5,729.5 883.5,728.5 891.5,730.5 899.5,730.5 907.5,740.5 915.5,717.5 923.5,707.5 931.5,731.5 939.5,741.5 947.5,727.5 955.5,740.5 963.5,731.5 971.5,721.5 979.5,729.5 987.5,736.5 995.5,735.5 1003.5,729.5 1011.5,722.5 1019.5,738.5 1027.5,724.5 1035.5,713.5 1043.5,716.5 1051.5,730.5 1059.5,728.5 1067.5,728.5 1075.5,730.5 1083.5,749.5 1091.5,748.5 1099.5,736.5"/>
<text x="17" y="14" font-size="9.8" fill="#191970" stroke="#191970" stroke-width="0.2" textLength="55" lengthAdjust="spacingAndGlyphs">XAUUSD,H4</text>
<text x="77.6" y="14" font-size="9.8" fill="#191970" stroke="#191970" stroke-width="0.2" textLength="33.6" lengthAdjust="spacingAndGlyphs">1874.94</text>
<text x="113.6" y="14" font-size="9.8" fill="#191970" stroke="#191970" stroke-width="0.2" textLength="33.6" lengthAdjust="spacingAndGlyphs">1887.30</text>
<text x="149.6" y="14" font-size="9.8" fill="#191970" stroke="#191970" stroke-width="0.2" textLength="33.6" lengthAdjust="spacingAndGlyphs">1874.48</text>
<text x="185.6" y="14" font-size="9.8" fill="#191970" stroke="#191970" stroke-width="0.2" textLength="33.6" lengthAdjust="spacingAndGlyphs">1880.47</text>
<text x="1160.3" y="19" font-size="9.8" fill="#191970" stroke="#191970" stroke-width="0.2" textLength="33" lengthAdjust="spacingAndGlyphs">1894.00</text>
<text x="1160.3" y="52" font-size="9.8" fill="#191970" stroke="#191970" stroke-width="0.2" textLength="33" lengthAdjust="spacingAndGlyphs">1886.20</text>
<text x="1160.3" y="85" font-size="9.8" fill="#191970" stroke="#191970" stroke-width="0.2" textLength="33" lengthAdjust="spacingAndGlyphs">1878.40</text>
<text x="1160.3" y="118" font-size="9.8" fill="#191970" stroke="#191970" stroke-width="0.2" textLength="33" lengthAdjust="spacingAndGlyphs">1870.60</text>
<text x="1160.3" y="151" font-size="9.8" fill="#191970" stroke="#191970" stroke-width="0.2" textLength="33" lengthAdjust="spacingAndGlyphs">1862.80</text>
<text x="1160.3" y="184" font-size="9.8" fill="#191970" stroke="#191970" stroke-width="0.2" textLength="33" lengthAdjust="spacingAndGlyphs">1855.00</text>
<text x="1160.3" y="217" font-size="9.8" fill="#191970" stroke="#191970" stroke-width="0.2" textLength="33" lengthAdjust="spacingAndGlyphs">1847.00</text>
<text x="1160.3" y="250" font-size="9.8" fill="#191970" stroke="#191970" stroke-width="0.2" textLength="33" lengthAdjust="spacingAndGlyphs">1839.20</text>
<text x="1160.3" y="283" font-size="9.8" fill="#191970" stroke="#191970" stroke-width="0.2" textLength="33" lengthAdjust="spacingAndGlyphs">1831.40</text>
<text x="1160.3" y="316" font-size="9.8" fill="#191970" stroke="#191970" stroke-width="0.2" textLength="33" lengthAdjust="spacingAndGlyphs">1823.60</text>
<text x="1160.3" y="349" font-size="9.8" fill="#191970" stroke="#191970" stroke-width="0.2" textLength="33" lengthAdjust="spacingAndGlyphs">1815.80</text>
<text x="1160.3" y="382" font-size="9.8" fill="#191970" stroke="#191970" stroke-width="0.2" textLength="33" lengthAdjust="spacingAndGlyphs">1808.00</text>
<text x="1160.3" y="415" font-size="9.8" fill="#191970" stroke="#191970" stroke-width="0.2" textLength="33" lengthAdjust="spacingAndGlyphs">1800.20</text>
<text x="1160.3" y="448" font-size="9.8" fill="#191970" stroke="#191970" stroke-width="0.2" textLength="33" lengthAdjust="spacingAndGlyphs">1792.40</text>
<text x="1160.3" y="481" font-size="9.8" fill="#191970" stroke="#191970" stroke-width="0.2" textLength="33" lengthAdjust="spacingAndGlyphs">1784.40</text>
<text x="1160.3" y="514" font-size="9.8" fill="#191970" stroke="#191970" stroke-width="0.2" textLength="33" lengthAdjust="spacingAndGlyphs">1776.60</text>
<text x="1160.3" y="547" font-size="9.8" fill="#191970" stroke="#191970" stroke-width="0.2" textLength="33" lengthAdjust="spacingAndGlyphs">1768.80</text>
<text x="1160.3" y="580" font-size="9.8" fill="#191970" stroke="#191970" stroke-width="0.2" textLength="33" lengthAdjust="spacingAndGlyphs">1761.00</text>
<text x="1160.3" y="613" font-size="9.8" fill="#191970" stroke="#191970" stroke-width="0.2" textLength="33" lengthAdjust="spacingAndGlyphs">1753.20</text>
<text x="1160.2" y="76" font-size="9.8" fill="#fff" stroke="#fff" stroke-width="0.2" textLength="33.2" lengthAdjust="spacingAndGlyphs">1880.47</text>
<text x="1111.3" y="78" font-size="10.5" fill="#2F4F4F" stroke="#2F4F4F" stroke-width="0.2" textLength="39.8" lengthAdjust="spacingAndGlyphs">1880.38</text>
<text x="1111.3" y="324" font-size="10.5" fill="#228B22" stroke="#228B22" stroke-width="0.2" textLength="39.8" lengthAdjust="spacingAndGlyphs">1821.89</text>
<text x="1111.3" y="501" font-size="10.5" fill="#228B22" stroke="#228B22" stroke-width="0.2" textLength="39.8" lengthAdjust="spacingAndGlyphs">1780.09</text>
<text x="1111.3" y="551" font-size="10.5" fill="#228B22" stroke="#228B22" stroke-width="0.2" textLength="39.8" lengthAdjust="spacingAndGlyphs">1768.07</text>
<text x="2" y="792" font-size="9.4" fill="#191970" stroke="#191970" stroke-width="0.2">22 Apr 2021</text>
<text x="66" y="792" font-size="9.4" fill="#191970" stroke="#191970" stroke-width="0.2">23 Apr 21:00</text>
<text x="130" y="792" font-size="9.4" fill="#191970" stroke="#191970" stroke-width="0.2">27 Apr 05:00</text>
<text x="194" y="792" font-size="9.4" fill="#191970" stroke="#191970" stroke-width="0.2">28 Apr 13:00</text>
<text x="258" y="792" font-size="9.4" fill="#191970" stroke="#191970" stroke-width="0.2">29 Apr 21:00</text>
<text x="322" y="792" font-size="9.4" fill="#191970" stroke="#191970" stroke-width="0.2">3 May 05:00</text>
<text x="386" y="792" font-size="9.4" fill="#191970" stroke="#191970" stroke-width="0.2">4 May 13:00</text>
<text x="450" y="792" font-size="9.4" fill="#191970" stroke="#191970" stroke-width="0.2">5 May 21:00</text>
<text x="514" y="792" font-size="9.4" fill="#191970" stroke="#191970" stroke-width="0.2">7 May 05:00</text>
<text x="578" y="792" font-size="9.4" fill="#191970" stroke="#191970" stroke-width="0.2">10 May 13:00</text>
<text x="642" y="792" font-size="9.4" fill="#191970" stroke="#191970" stroke-width="0.2">11 May 21:00</text>
<text x="706" y="792" font-size="9.4" fill="#191970" stroke="#191970" stroke-width="0.2">13 May 05:00</text>
<text x="770" y="792" font-size="9.4" fill="#191970" stroke="#191970" stroke-width="0.2">14 May 13:00</text>
<text x="834" y="792" font-size="9.4" fill="#191970" stroke="#191970" stroke-width="0.2">17 May 21:00</text>
<text x="898" y="792" font-size="9.4" fill="#191970" stroke="#191970" stroke-width="0.2">19 May 05:00</text>
<text x="962" y="792" font-size="9.4" fill="#191970" stroke="#191970" stroke-width="0.2">20 May 13:00</text>
<text x="1026" y="792" font-size="9.4" fill="#191970" stroke="#191970" stroke-width="0.2">21 May 21:00</text>
<text x="1090" y="792" font-size="9.4" fill="#191970" stroke="#191970" stroke-width="0.2">25 May 05:00</text>
<text x="7" y="627" font-size="9.8" fill="#191970" stroke="#191970" stroke-width="0.2" textLength="68" lengthAdjust="spacingAndGlyphs">RSI(14) 56.0340</text>
<text x="7" y="711" font-size="9.8" fill="#191970" stroke="#191970" stroke-width="0.2" textLength="70" lengthAdjust="spacingAndGlyphs">CCI(14) 23.0173</text>
<text x="1158" y="625" font-size="9.8" fill="#191970" stroke="#191970" stroke-width="0.2" textLength="14.7" lengthAdjust="spacingAndGlyphs">100</text>
<text x="1158" y="643" font-size="9.8" fill="#191970" stroke="#191970" stroke-width="0.2" textLength="9.8" lengthAdjust="spacingAndGlyphs">70</text>
<text x="1158" y="675" font-size="9.8" fill="#191970" stroke="#191970" stroke-width="0.2" textLength="9.8" lengthAdjust="spacingAndGlyphs">30</text>
<text x="1158" y="693" font-size="9.8" fill="#191970" stroke="#191970" stroke-width="0.2" textLength="4.9" lengthAdjust="spacingAndGlyphs">0</text>
<text x="1158" y="710" font-size="9.8" fill="#191970" stroke="#191970" stroke-width="0.2" textLength="37.0" lengthAdjust="spacingAndGlyphs">264.7511</text>
<text x="1158" y="728" font-size="9.8" fill="#191970" stroke="#191970" stroke-width="0.2" textLength="14.7" lengthAdjust="spacingAndGlyphs">100</text>
<text x="1158" y="742.5" font-size="9.8" fill="#191970" stroke="#191970" stroke-width="0.2" textLength="17.4" lengthAdjust="spacingAndGlyphs">0.00</text>
<text x="1158" y="757" font-size="9.8" fill="#191970" stroke="#191970" stroke-width="0.2" textLength="18.0" lengthAdjust="spacingAndGlyphs">-100</text>
<text x="1158" y="777" font-size="9.8" fill="#191970" stroke="#191970" stroke-width="0.2" textLength="40.3" lengthAdjust="spacingAndGlyphs">-274.3299</text>
</svg>
</body></html>
